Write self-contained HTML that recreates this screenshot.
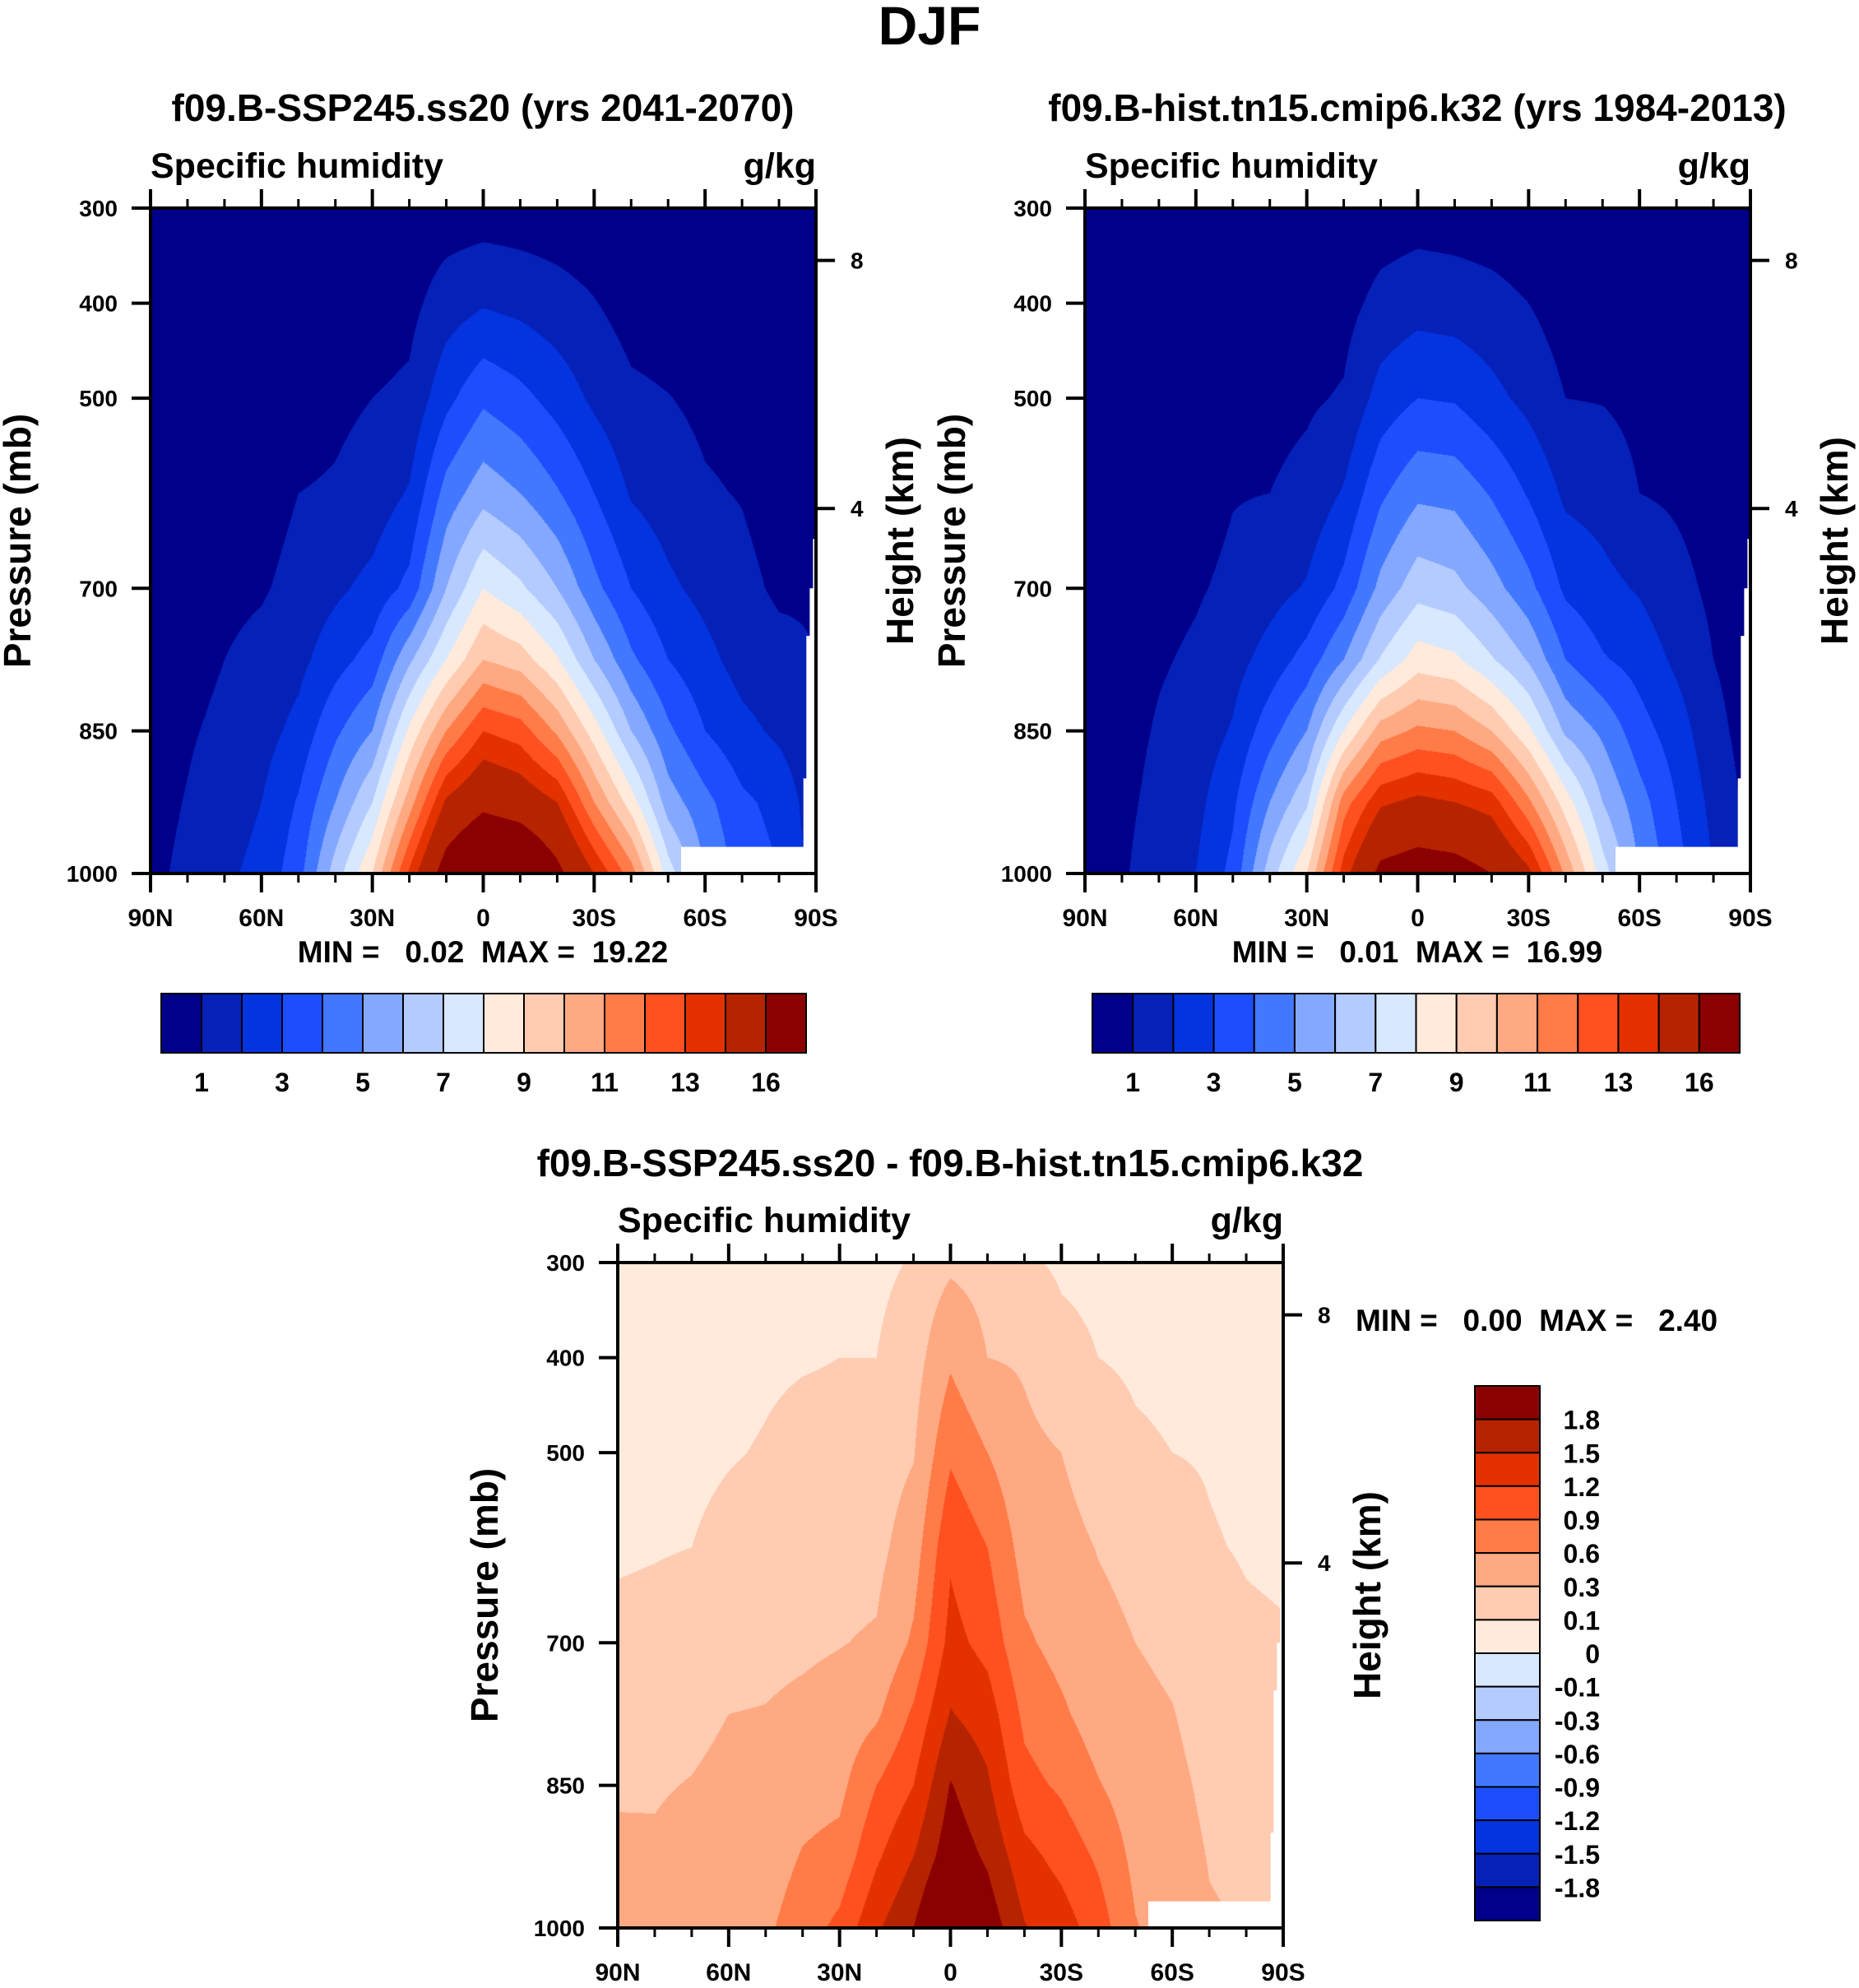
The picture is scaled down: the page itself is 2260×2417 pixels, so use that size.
<!DOCTYPE html>
<html><head><meta charset="utf-8"><title>DJF Specific humidity</title>
<style>
html,body{margin:0;padding:0;background:#fff;}
#root{position:relative;width:2260px;height:2417px;overflow:hidden;background:#fff;font-family:"Liberation Sans",Arial,sans-serif;}
canvas{position:absolute;}
svg{position:absolute;left:0;top:0;}
text{font-family:"Liberation Sans",Arial,sans-serif;font-weight:bold;fill:#000;}
</style></head>
<body>
<div id="root">
<canvas id="c1" width="809" height="809" style="left:183px;top:253px"></canvas>
<canvas id="c2" width="809" height="809" style="left:1319px;top:253px"></canvas>
<canvas id="c3" width="809" height="809" style="left:751px;top:1535px"></canvas>
<svg id="ov" width="2260" height="2417">
<text x="1130" y="54" text-anchor="middle" font-size="66">DJF</text>
<text x="587" y="147" text-anchor="middle" font-size="46">f09.B-SSP245.ss20 (yrs 2041-2070)</text>
<text x="1723" y="147" text-anchor="middle" font-size="46">f09.B-hist.tn15.cmip6.k32 (yrs 1984-2013)</text>
<text x="1155" y="1430" text-anchor="middle" font-size="46">f09.B-SSP245.ss20 - f09.B-hist.tn15.cmip6.k32</text>
<text x="587" y="1170" text-anchor="middle" font-size="37" xml:space="preserve">MIN =   0.02  MAX =  19.22</text>
<text x="1723" y="1170" text-anchor="middle" font-size="37" xml:space="preserve">MIN =   0.01  MAX =  16.99</text>
<text x="1648" y="1618" text-anchor="start" font-size="37" xml:space="preserve">MIN =   0.00  MAX =   2.40</text>
</svg>
</div>
<script>
// ---------- data ----------
const lats = [90,80,70,60,50,40,30,20,10,0,-10,-20,-30,-40,-50,-60,-70,-80,-90];
const plevs = [1000,925,850,775,700,600,500,400,300];
// future (SSP245) specific humidity g/kg, one array per pressure level
const fut1000 = [0.8,1.2,1.8,2.3,3.6,6.5,9,13.2,17,19,18.5,16.5,14,11.5,7.5,5,3.6,3.0,1.6];
const fut925  = [0.7,1.05,1.5,2.0,3.1,5,7,10.5,14.2,15.5,15,14,11,8.5,5.5,4.3,3.2,2.7,1.4];
const fut850  = [0.6,0.9,1.2,1.6,2.3,3.8,5,8.2,11,13,12.5,10.8,8.5,6,4.2,3.0,2.3,1.8,1.2];
const fut775  = [0.5,0.7,1.0,1.3,1.7,2.6,3.4,5.8,8,10,9.5,8.1,6,4.2,3,2.3,1.6,1.3,1.0];
const fut700  = [0.4,0.55,0.75,0.9,1.3,1.8,2.3,3.3,6,8,7.2,6,4.3,3,2.2,1.7,1.25,0.85,0.9];
const fut600  = [0.3,0.4,0.5,0.6,1.0,1.1,1.4,2.1,4.4,5.6,5,4.1,3,1.9,1.5,1.1,0.95,0.6,0.5];
const fut500  = [0.2,0.25,0.3,0.4,0.6,0.8,1.0,1.2,2.7,3.8,3.3,2.6,1.8,1.2,1.03,0.8,0.7,0.4,0.3];
const fut400  = [0.1,0.12,0.15,0.2,0.3,0.4,0.5,0.7,1.5,1.9,1.7,1.4,1.05,0.6,0.5,0.4,0.35,0.2,0.15];
const fut300  = [0.05,0.05,0.06,0.1,0.1,0.15,0.2,0.3,0.45,0.5,0.45,0.4,0.3,0.2,0.2,0.15,0.1,0.08,0.05];
// historical
const his1000 = [0.6,0.85,1.6,2.0,3.3,6.5,9,13.5,16.5,17,16.8,16,14.3,10.8,7.5,5,3.4,2.0,0.8];
const his925  = [0.55,0.75,1.3,1.7,2.8,5,6.8,11.5,13.8,14.3,14,13.5,11.2,8.5,6.0,4.4,3.0,1.7,0.7];
const his850  = [0.5,0.65,1.1,1.4,2.1,3.6,5,8,10.5,11.2,11,10,8.2,5.8,4.8,3.4,2.5,1.3,0.6];
const his775  = [0.45,0.55,0.9,1.15,1.6,2.4,3.4,5,7.1,8.5,8.2,7.1,5.9,4.0,3.1,2.6,1.8,1.0,0.55];
const his700  = [0.4,0.45,0.7,0.9,1.2,1.6,2.1,3.3,5.3,6.6,6.3,5.4,4.3,2.8,2.3,1.9,1.3,0.8,0.5];
const his600  = [0.3,0.35,0.5,0.6,0.95,1.0,1.3,2.1,3.8,4.8,4.7,3.9,2.9,1.8,1.6,1.0,0.85,0.6,0.4];
const his500  = [0.2,0.2,0.3,0.35,0.6,0.7,0.85,1.1,2.4,3,2.9,2.3,1.7,1.0,0.95,0.75,0.6,0.4,0.3];
const his400  = [0.1,0.1,0.15,0.2,0.3,0.35,0.45,0.65,1.3,1.6,1.5,1.3,1.0,0.55,0.5,0.4,0.3,0.2,0.15];
const his300  = [0.05,0.05,0.06,0.08,0.1,0.12,0.15,0.25,0.45,0.55,0.5,0.45,0.35,0.2,0.18,0.15,0.1,0.08,0.05];
// difference
const dif1000 = [0.45,0.45,0.48,0.5,0.55,0.75,0.98,1.45,1.8,2.4,2.0,1.52,1.35,1.05,0.62,0.45,0.32,0.3,0.22];
const dif925  = [0.35,0.33,0.38,0.42,0.45,0.62,0.7,1.15,1.5,2.0,1.75,1.3,1.1,0.85,0.52,0.4,0.29,0.25,0.2];
const dif850  = [0.27,0.28,0.31,0.36,0.38,0.48,0.52,0.9,1.2,1.82,1.55,1.0,0.85,0.62,0.43,0.36,0.25,0.2,0.18];
const dif775  = [0.2,0.22,0.24,0.3,0.31,0.35,0.4,0.55,0.95,1.52,1.35,0.83,0.65,0.45,0.36,0.31,0.2,0.15,0.14];
const dif700  = [0.14,0.15,0.18,0.22,0.24,0.26,0.29,0.33,0.65,1.3,1.1,0.65,0.5,0.37,0.3,0.25,0.16,0.12,0.11];
const dif600  = [0.08,0.09,0.1,0.14,0.17,0.19,0.2,0.22,0.45,1.15,0.9,0.48,0.38,0.29,0.23,0.16,0.11,0.09,0.08];
const dif500  = [0.06,0.06,0.07,0.09,0.11,0.14,0.14,0.16,0.28,0.85,0.6,0.36,0.3,0.18,0.12,0.1,0.09,0.07,0.06];
const dif400  = [0.05,0.05,0.05,0.06,0.08,0.09,0.1,0.1,0.18,0.55,0.3,0.27,0.14,0.1,0.08,0.07,0.06,0.05,0.05];
const dif300  = [0.04,0.04,0.04,0.05,0.06,0.06,0.07,0.07,0.11,0.25,0.2,0.12,0.08,0.07,0.06,0.05,0.05,0.04,0.04];
// contour levels
const qLevels = [1,2,3,4,5,6,7,8,9,10,11,12,13,14,16];
const qLabels = ["1","3","5","7","9","11","13","16"];
const dLevels = [-1.8,-1.5,-1.2,-0.9,-0.6,-0.3,-0.1,0,0.1,0.3,0.6,0.9,1.2,1.5,1.8];
const dLabels = ["1.8","1.5","1.2","0.9","0.6","0.3","0.1","0","-0.1","-0.3","-0.6","-0.9","-1.2","-1.5","-1.8"];
const palette = ["#00008a","#0521b8","#0433e0","#1c4eff","#4278ff","#84a8ff","#b4cbff","#d7e8ff","#ffeadb","#ffcbb1","#ffa982","#ff7b48","#ff5020","#e33100","#b52300","#8b0000"];
// topography mask (missing data)
const topoLat = [-53.5,-86.6,-86.6,-87.4,-87.4,-88.3,-88.3,-89.2,-89.2,-90];
const topoP   = [972,972,900,900,750,750,700,700,648,648];
// axes
const pTicks = [300,400,500,700,850,1000];
const latTicks = [90,60,30,0,-30,-60,-90];
const latTickLabels = ["90N","60N","30N","0","30S","60S","90S"];
const latMinor = [80,70,50,40,20,10,-10,-20,-40,-50,-70,-80];
const kmTicks = ["8","4"];
const kmTickP = [355,616];

const futRows = [fut1000,fut925,fut850,fut775,fut700,fut600,fut500,fut400,fut300];
const hisRows = [his1000,his925,his850,his775,his700,his600,his500,his400,his300];
const difRows = [dif1000,dif925,dif850,dif775,dif700,dif600,dif500,dif400,dif300];

// ---------- rendering ----------
const NS = "http://www.w3.org/2000/svg";
const ov = document.getElementById('ov');
function hex(c){return [parseInt(c.substr(1,2),16),parseInt(c.substr(3,2),16),parseInt(c.substr(5,2),16)];}
const palRGB = palette.map(hex);
const W = 809, H = 809;

function fill(canvasId, rows, levels){
  const cv = document.getElementById(canvasId);
  const ctx = cv.getContext('2d');
  const img = ctx.createImageData(W,H);
  const d = img.data;
  for(let py=0; py<H; py++){
    const p = 300 + (py+0.5)/H*700;
    let r = 0;
    while(r < plevs.length-2 && p < plevs[r+1]) r++;
    const tp = (plevs[r]-p)/(plevs[r]-plevs[r+1]);
    const A = rows[r], B = rows[r+1];
    for(let px=0; px<W; px++){
      const f = (px+0.5)/W*(lats.length-1);
      let i = Math.floor(f); if(i>=lats.length-1) i=lats.length-2;
      const tl = f-i;
      const v0 = A[i]*(1-tl)+A[i+1]*tl;
      const v1 = B[i]*(1-tl)+B[i+1]*tl;
      const v = v0*(1-tp)+v1*tp;
      let k=0; while(k<levels.length && v>=levels[k]) k++;
      const c = palRGB[k]; const o=(py*W+px)*4;
      d[o]=c[0]; d[o+1]=c[1]; d[o+2]=c[2]; d[o+3]=255;
    }
  }
  ctx.putImageData(img,0,0);
}

function mk(tag, attrs){const e=document.createElementNS(NS,tag);for(const k in attrs)e.setAttribute(k,attrs[k]);ov.appendChild(e);return e;}

function axes(x0,y0,tag){
  const xs = lat => x0 + (90-lat)/180*W;
  const ys = p => y0 + (p-300)/700*H;
  let pts = topoLat.map((l,i)=>xs(l).toFixed(1)+","+ys(topoP[i]).toFixed(1));
  pts.push(xs(-90)+","+ys(1000)); pts.push(xs(topoLat[0])+","+ys(1000));
  const m = mk('polygon',{points:pts.join(' '),fill:'#fff'});
  
  
  const fr = mk('rect',{x:x0,y:y0,width:W,height:H,fill:'none',stroke:'#000','stroke-width':4});
  
  
  latTicks.forEach((l,i)=>{
    const x = xs(l);
    const t1 = mk('line',{x1:x,y1:y0,x2:x,y2:y0-23,stroke:'#000','stroke-width':4});
    
    
    const t2 = mk('line',{x1:x,y1:y0+H,x2:x,y2:y0+H+23,stroke:'#000','stroke-width':4});
    
    
    const tx = mk('text',{x:x,y:y0+H+64,'text-anchor':'middle','font-size':30});
    tx.textContent = latTickLabels[i];
    
    
  });
  latMinor.forEach(l=>{
    const x = xs(l);
    const a = mk('line',{x1:x,y1:y0,x2:x,y2:y0-11,stroke:'#000','stroke-width':3});
    
    
    const b = mk('line',{x1:x,y1:y0+H,x2:x,y2:y0+H+11,stroke:'#000','stroke-width':3});
    
    
  });
  pTicks.forEach(p=>{
    const y = ys(p);
    const t = mk('line',{x1:x0,y1:y,x2:x0-23,y2:y,stroke:'#000','stroke-width':4});
    
    
    const tx = mk('text',{x:x0-40,y:y+10,'text-anchor':'end','font-size':28});
    tx.textContent = String(p);
    
    
  });
  kmTicks.forEach((k,i)=>{
    const y = ys(kmTickP[i]);
    const t = mk('line',{x1:x0+W,y1:y,x2:x0+W+23,y2:y,stroke:'#000','stroke-width':4});
    
    
    const tx = mk('text',{x:x0+W+42,y:y+10,'text-anchor':'start','font-size':28});
    tx.textContent = k;
    
    
  });
  const s = mk('text',{x:x0,y:y0-37,'text-anchor':'start','font-size':43});
  s.textContent = 'Specific humidity';
  
  
  const u = mk('text',{x:x0+W,y:y0-37,'text-anchor':'end','font-size':43});
  u.textContent = 'g/kg';
  
  
  const yl = mk('text',{x:0,y:0,'text-anchor':'middle','font-size':46,transform:'translate('+(x0-146)+','+(y0+H/2)+') rotate(-90)'});
  yl.textContent = 'Pressure (mb)';
  
  
  const hl = mk('text',{x:0,y:0,'text-anchor':'middle','font-size':46,transform:'translate('+(x0+W+118)+','+(y0+H/2)+') rotate(-90)'});
  hl.textContent = 'Height (km)';
  
  
}

function hbar(x0,y0,w,h,tag){
  const bw = w/palette.length;
  palette.forEach((c,i)=>{
    const r = mk('rect',{x:x0+i*bw,y:y0,width:bw,height:h,fill:c,stroke:'#000','stroke-width':2});
    
    
  });
  qLabels.forEach((t,j)=>{
    const tx = mk('text',{x:x0+(2*j+1)*bw,y:y0+h+47,'text-anchor':'middle','font-size':32});
    tx.textContent = t;
    
    
  });
}
function vbar(x0,y0,w,h,tag){
  const bh = h/palette.length;
  palette.slice().reverse().forEach((c,i)=>{
    const r = mk('rect',{x:x0,y:y0+i*bh,width:w,height:bh,fill:c,stroke:'#000','stroke-width':2});
    
    
  });
  dLabels.forEach((t,j)=>{
    const tx = mk('text',{x:x0+w+73,y:y0+(j+1)*bh+12,'text-anchor':'end','font-size':32});
    tx.textContent = t;
    
    
  });
}

fill('c1', futRows, qLevels);
fill('c2', hisRows, qLevels);
fill('c3', difRows, dLevels);
axes(183,253,'future');
axes(1319,253,'historical');
axes(751,1535,'difference');
hbar(196,1208,784,72,'future');
hbar(1328,1208,787,72,'historical');
vbar(1793,1685,79,650,'difference');
</script>
</body></html>
